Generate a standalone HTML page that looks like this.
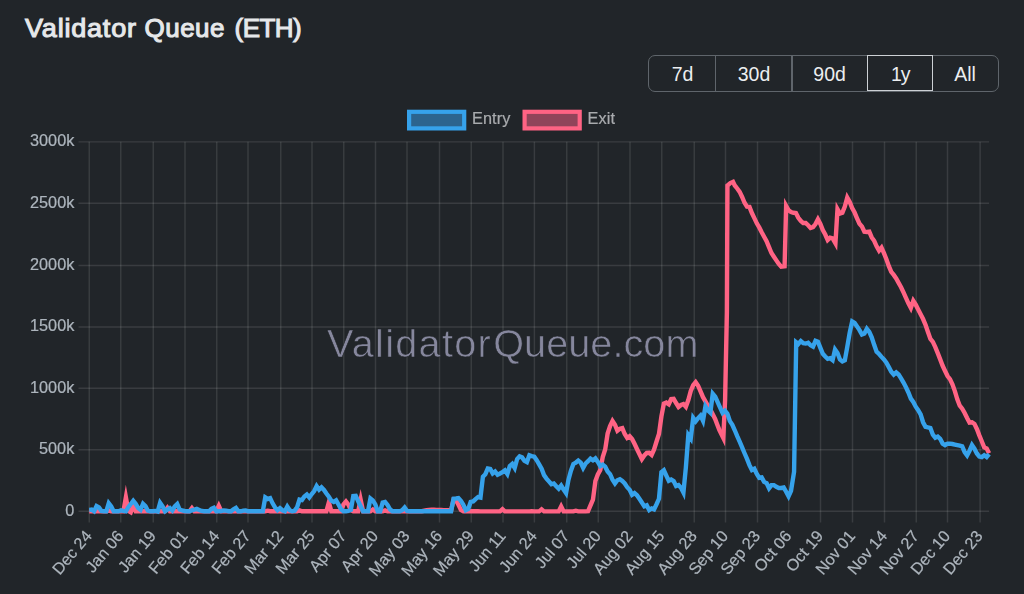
<!DOCTYPE html>
<html><head><meta charset="utf-8"><title>Validator Queue (ETH)</title>
<style>
html,body{margin:0;padding:0;background:#212529;}
body{width:1024px;height:594px;position:relative;overflow:hidden;font-family:"Liberation Sans",sans-serif;}
svg text{font-family:"Liberation Sans",sans-serif;}
h1{position:absolute;left:0;top:12.2px;margin:0;font-size:26px;line-height:32px;font-weight:normal;-webkit-text-stroke:1.05px #e6e8ea;color:#e6e8ea;white-space:nowrap;}
h1 span{position:absolute;top:0;transform-origin:0 0;}
.bg{position:absolute;left:648px;top:54.6px;width:351px;height:37.6px;box-sizing:border-box;border:1.4px solid #5f656b;border-radius:7px;}
.bg span{position:absolute;top:-1.2px;height:37.6px;line-height:41.2px;text-align:center;color:#eceef0;font-size:19.5px;box-sizing:border-box;}
.bg i{position:absolute;top:0;width:1.4px;height:35px;background:#5f656b;}
.bg .act{border:1.3px solid #cdd1d5;top:-0.2px;height:35.8px;line-height:36.8px;letter-spacing:-1.2px;}
</style></head><body>
<h1><span style="left:25.2px;letter-spacing:0.75px;transform:scaleX(1.04)">Validator</span><span style="left:144.6px;letter-spacing:0.45px">Queue</span><span style="left:234.6px;letter-spacing:-0.55px">(ETH)</span></h1>
<div class="bg">
<span style="left:0;width:67px">7d</span><i style="left:65.8px"></i>
<span style="left:67px;width:76px">30d</span><i style="left:142.3px"></i>
<span style="left:142.6px;width:76px">90d</span>
<span class="act" style="left:218.2px;width:66px">1y</span>
<span style="left:283px;width:66px">All</span>
</div>
<svg width="1024" height="594" viewBox="0 0 1024 594" style="position:absolute;left:0;top:0;will-change:transform;">
<path d="M78.50 511.30H989.10M78.50 449.75H989.10M78.50 388.15H989.10M78.50 326.95H989.10M78.50 265.40H989.10M78.50 203.20H989.10M78.50 141.85H989.10" stroke="rgba(255,255,255,0.108)" stroke-width="1.45" fill="none"/>
<path d="M89.25 141.70V522.50M120.75 141.70V522.50M153.25 141.70V522.50M185.00 141.70V522.50M216.75 141.70V522.50M248.00 141.70V522.50M280.75 141.70V522.50M312.00 141.70V522.50M343.75 141.70V522.50M375.50 141.70V522.50M407.00 141.70V522.50M439.50 141.70V522.50M471.25 141.70V522.50M503.00 141.70V522.50M534.40 141.70V522.50M566.75 141.70V522.50M598.25 141.70V522.50M630.00 141.70V522.50M661.75 141.70V522.50M694.25 141.70V522.50M725.50 141.70V522.50M757.50 141.70V522.50M788.75 141.70V522.50M820.50 141.70V522.50M852.50 141.70V522.50M884.50 141.70V522.50M916.25 141.70V522.50M947.50 141.70V522.50M980.10 141.70V522.50" stroke="rgba(255,255,255,0.108)" stroke-width="1.45" fill="none"/>
<g font-size="39.6" fill="#86879d" stroke="#212529" stroke-width="0.6" class="wm"><text x="327.0" y="356.5" letter-spacing="1.3">Validator</text><text x="493.2" y="356.5" letter-spacing="0.08">Queue.com</text></g>
<clipPath id="c"><rect x="87.8" y="140.2" width="903.3000000000001" height="377.6"/></clipPath>
<g clip-path="url(#c)" fill="none" stroke-width="4.4" stroke-linejoin="miter" stroke-miterlimit="10">
<polyline points="89.20,511.25 91.65,511.25 94.09,511.25 96.54,511.25 98.98,511.25 101.43,511.25 103.87,511.25 106.32,511.25 108.76,510.43 111.21,511.25 113.65,511.25 116.10,511.25 118.54,511.25 120.99,511.25 123.44,511.30 125.88,497.38 128.33,510.84 130.77,512.33 133.22,505.37 135.66,511.25 138.11,511.25 140.55,511.25 143.00,511.25 145.44,511.25 147.89,511.25 150.33,511.25 152.78,511.25 155.23,511.25 157.67,511.25 160.12,511.25 162.56,511.25 165.01,511.25 167.45,507.80 169.90,511.25 172.34,511.25 174.79,511.25 177.23,511.00 179.68,511.25 182.12,511.25 184.57,511.25 187.02,511.25 189.46,511.25 191.91,508.04 194.35,511.25 196.80,511.25 199.24,511.25 201.69,511.25 204.13,511.25 206.58,511.25 209.02,511.25 211.47,511.25 213.91,511.25 216.36,511.25 218.81,505.89 221.25,511.25 223.70,511.25 226.14,511.25 228.59,511.25 231.03,511.25 233.48,511.25 235.92,511.25 238.37,511.25 240.81,511.25 243.26,511.25 245.70,511.25 248.15,511.25 250.60,511.25 253.04,511.25 255.49,511.25 257.93,511.25 260.38,511.25 262.82,511.25 265.27,511.25 267.71,510.70 270.16,511.25 272.60,511.25 275.05,511.25 277.49,511.25 279.94,511.25 282.39,511.25 284.83,511.25 287.28,511.25 289.72,511.25 292.17,511.25 294.61,511.25 297.06,511.25 299.50,510.43 301.95,511.25 304.39,511.25 306.84,511.25 309.28,511.25 311.73,511.25 314.18,511.25 316.62,511.25 319.07,511.25 321.51,511.25 323.96,511.25 326.40,511.25 328.85,502.34 331.29,511.25 333.74,511.25 336.18,511.25 338.63,511.25 341.07,511.25 343.52,504.41 345.96,501.58 348.41,504.69 350.86,510.16 353.30,511.25 355.75,511.25 358.19,511.25 360.64,499.64 363.08,511.25 365.53,511.25 367.97,511.25 370.42,511.25 372.86,509.46 375.31,511.25 377.75,511.25 380.20,511.25 382.65,511.25 385.09,510.43 387.54,511.25 389.98,511.25 392.43,511.25 394.87,511.25 397.32,511.25 399.76,511.25 402.21,511.25 404.65,511.25 407.10,511.25 409.54,511.25 411.99,511.25 414.44,511.25 416.88,511.25 419.33,511.25 421.77,511.25 424.22,510.77 426.66,510.29 429.11,510.02 431.55,509.75 434.00,509.81 436.44,509.88 438.89,509.95 441.33,510.02 443.78,510.11 446.23,510.20 448.67,510.29 451.12,510.29 453.56,499.49 456.01,500.31 458.45,504.69 460.90,509.88 463.34,511.25 465.79,511.25 468.23,511.25 470.68,511.25 473.12,511.25 475.57,511.25 478.02,511.31 480.46,511.37 482.91,511.37 485.35,511.37 487.80,511.37 490.24,511.37 492.69,511.37 495.13,511.37 497.58,511.37 500.02,511.37 502.47,509.23 504.91,511.37 507.36,511.37 509.81,511.37 512.25,511.37 514.70,511.37 517.14,511.37 519.59,511.37 522.03,511.37 524.48,511.37 526.92,511.37 529.37,511.37 531.81,511.25 534.26,511.37 536.70,511.37 539.15,511.37 541.60,509.40 544.04,511.37 546.49,511.37 548.93,511.37 551.38,511.37 553.82,511.37 556.27,511.37 558.71,511.37 561.16,506.46 563.60,511.37 566.05,511.37 568.49,511.37 570.94,511.37 573.39,511.37 575.83,510.68 578.28,511.37 580.72,511.37 583.17,511.37 585.61,511.37 588.06,511.23 590.50,505.35 592.95,499.75 595.39,481.02 597.84,474.45 600.28,470.00 602.73,457.00 605.18,449.50 607.62,433.57 610.07,426.05 612.51,420.95 614.96,424.69 617.40,430.72 619.85,428.79 622.29,428.11 624.74,433.98 627.18,437.92 629.63,436.15 632.07,439.04 634.52,443.83 636.97,449.02 639.41,454.08 641.86,459.06 644.30,455.50 646.75,453.00 649.19,452.85 651.64,454.98 654.08,449.50 656.53,441.50 658.97,434.00 661.42,416.40 663.86,403.50 666.31,402.57 668.76,404.23 671.20,399.00 673.65,398.80 676.09,403.00 678.54,406.94 680.98,405.00 683.43,404.01 685.87,406.72 688.32,400.00 690.76,391.00 693.21,385.04 695.65,382.12 698.10,385.72 700.55,391.46 702.99,397.21 705.44,401.45 707.88,405.55 710.33,409.65 712.77,414.30 715.22,419.22 717.31,424.69 719.41,430.16 721.45,434.26 723.30,437.95 725.10,400.00 726.90,312.00 727.44,185.59 730.29,183.12 733.04,181.87 734.78,185.45 737.23,188.46 739.67,191.88 742.12,196.93 744.56,202.81 747.01,206.64 749.45,206.91 751.90,213.07 754.34,218.12 756.79,223.32 759.23,227.42 761.68,232.21 764.12,236.72 766.57,241.09 769.02,247.09 771.46,252.97 773.91,256.66 776.35,260.35 778.80,263.91 781.24,266.64 784.59,266.23 786.13,205.94 788.58,210.33 791.02,212.11 793.47,212.79 795.91,213.07 798.36,217.85 800.81,220.86 803.25,223.05 805.70,223.06 808.14,225.23 810.59,227.91 813.03,227.15 815.48,224.00 817.92,219.25 820.37,224.00 822.81,230.16 825.26,234.53 827.70,240.08 830.15,237.77 832.60,238.36 835.44,243.34 837.49,209.18 839.93,213.52 842.38,212.66 844.82,206.64 847.27,197.59 849.71,201.88 852.16,208.03 854.60,212.54 857.05,218.28 859.49,223.75 861.94,226.48 864.39,231.68 866.83,231.95 869.28,231.68 871.72,237.42 874.17,240.84 876.61,246.31 879.06,250.65 881.50,247.70 883.95,253.14 886.39,259.30 888.84,266.13 891.28,271.88 893.73,274.88 896.18,278.44 898.62,282.81 901.07,287.19 903.51,292.38 905.96,297.85 908.40,303.32 910.85,308.01 913.29,300.84 915.74,304.69 918.18,309.47 920.63,314.26 923.07,319.04 925.52,324.79 927.97,332.03 930.41,338.87 932.86,341.88 935.30,347.07 937.75,353.09 940.19,359.38 942.64,365.80 945.08,371.00 947.53,376.05 949.97,379.06 952.42,384.26 954.86,391.09 957.31,399.30 959.76,405.72 962.20,408.73 964.65,412.97 967.09,418.03 969.54,422.54 971.98,422.27 974.43,423.91 976.87,428.96 979.32,435.39 981.76,441.27 984.21,447.42 986.65,448.52 989.10,453.16" stroke="#ff6384"/>
<polyline points="89.20,509.86 91.65,509.59 94.09,511.23 96.54,506.09 98.98,507.42 101.43,510.96 103.87,511.30 106.32,511.30 108.76,503.22 111.21,506.33 113.65,511.30 116.10,511.23 118.54,511.30 120.99,510.27 123.44,510.96 125.88,511.30 128.33,507.15 130.77,504.00 133.22,500.85 135.66,503.87 138.11,507.97 140.55,509.74 143.00,503.78 145.44,506.19 147.89,510.68 150.33,511.30 152.78,511.30 155.23,510.96 157.67,511.59 160.12,502.88 162.56,506.33 165.01,511.30 167.45,509.59 169.90,508.12 172.34,510.47 174.79,506.33 177.23,504.04 179.68,509.59 182.12,510.49 184.57,510.96 187.02,511.30 189.46,511.30 191.91,510.27 194.35,509.59 196.80,508.91 199.24,509.93 201.69,510.96 204.13,511.30 206.58,511.30 209.02,511.30 211.47,508.91 213.91,507.70 216.36,511.30 218.81,511.23 221.25,510.96 223.70,510.41 226.14,510.68 228.59,511.23 231.03,511.30 233.48,509.32 235.92,507.97 238.37,511.30 240.81,511.30 243.26,510.68 245.70,510.41 248.15,511.30 250.60,511.30 253.04,511.30 255.49,511.30 257.93,511.30 260.38,511.30 262.82,511.23 265.27,497.38 267.71,498.95 270.16,498.11 272.60,503.32 275.05,507.42 277.49,510.15 279.94,508.21 282.39,510.27 284.83,511.23 287.28,506.63 289.72,510.27 292.17,511.27 294.61,510.68 297.06,507.42 299.50,499.49 301.95,500.04 304.39,496.48 306.84,494.50 309.28,497.44 311.73,494.02 314.18,491.02 316.62,486.07 319.07,489.67 321.51,487.31 323.96,489.92 326.40,493.48 328.85,496.76 331.29,500.59 333.74,501.95 336.18,500.32 338.63,504.69 341.07,509.32 343.52,511.30 345.96,511.30 348.41,510.96 350.86,509.86 353.30,496.07 355.75,495.83 358.19,501.27 360.64,506.33 363.08,511.30 365.53,511.30 367.97,511.30 370.42,498.53 372.86,500.59 375.31,504.41 377.75,511.30 380.20,511.30 382.65,502.64 385.09,501.98 387.54,504.96 389.98,509.32 392.43,511.30 394.87,511.30 397.32,511.09 399.76,511.30 402.21,510.27 404.65,507.53 407.10,510.96 409.54,511.30 411.99,511.30 414.44,511.30 416.88,511.30 419.33,511.30 421.77,511.30 424.22,511.30 426.66,511.30 429.11,511.30 431.55,511.30 434.00,511.30 436.44,511.30 438.89,511.30 441.33,511.30 443.78,511.30 446.23,511.30 448.67,511.30 451.12,511.30 453.56,498.81 456.01,498.54 458.45,498.16 460.90,500.86 463.34,504.69 465.79,510.15 468.23,508.91 470.68,501.95 473.12,501.41 475.57,499.06 478.02,497.05 480.46,497.53 482.91,476.78 485.35,474.18 487.80,468.49 490.24,468.98 492.69,473.36 495.13,471.52 497.58,474.78 500.02,473.50 502.47,472.13 504.91,470.42 507.36,473.97 509.81,465.98 512.25,463.88 514.70,467.95 517.14,459.00 519.59,456.31 522.03,457.36 524.48,460.78 526.92,462.12 529.37,455.33 531.81,456.13 534.26,456.68 536.70,460.23 539.15,464.34 541.60,468.71 544.04,475.14 546.49,478.55 548.93,481.43 551.38,484.30 553.82,483.48 556.27,486.21 558.71,488.65 561.16,485.53 563.60,489.49 566.05,493.10 568.49,479.65 570.94,470.62 573.39,463.93 575.83,462.56 578.28,460.59 580.72,462.56 583.17,467.93 585.61,463.52 588.06,461.19 590.50,458.60 592.95,460.26 595.39,458.43 597.84,461.88 600.28,466.11 602.73,464.59 605.18,466.66 607.62,471.45 610.07,474.18 612.51,479.65 614.96,483.37 617.40,480.20 619.85,479.16 622.29,481.02 624.74,483.48 627.18,487.17 629.63,489.77 632.07,494.82 634.52,493.10 636.97,495.23 639.41,498.79 641.86,502.48 644.30,506.31 646.75,505.37 649.19,509.98 651.64,508.37 654.08,509.37 656.53,504.26 658.97,498.79 661.42,472.13 663.86,470.16 666.31,475.55 668.76,480.74 671.20,479.46 673.65,481.02 676.09,485.94 678.54,485.12 680.98,487.71 683.43,492.48 685.87,467.34 688.32,435.07 690.76,438.54 693.21,417.85 695.65,421.27 698.10,418.12 700.55,415.55 702.99,420.79 705.44,406.42 707.88,410.33 710.33,412.62 712.77,393.73 715.22,396.66 717.66,402.13 720.11,407.60 722.55,412.89 725.00,410.75 727.44,413.75 729.89,421.09 732.34,424.79 734.78,430.25 737.23,436.13 739.67,441.60 742.12,447.34 744.56,453.22 747.01,458.96 749.45,465.12 751.90,470.07 754.34,468.80 756.79,474.00 759.23,477.79 761.68,477.47 764.12,481.80 766.57,483.16 769.02,488.27 771.46,485.08 773.91,485.09 776.35,486.72 778.80,487.95 781.24,487.95 783.69,487.51 786.13,491.78 788.58,496.37 791.02,490.96 794.07,471.82 796.21,342.23 798.36,343.96 800.81,341.13 803.25,343.22 805.70,343.50 808.14,342.81 810.59,345.27 813.03,346.58 815.48,340.82 817.92,341.72 820.37,347.87 822.81,353.75 825.26,356.48 827.70,358.81 830.15,358.20 832.60,360.13 835.04,349.53 837.49,353.07 839.93,359.49 842.38,361.44 844.82,360.31 847.27,346.91 849.71,332.56 852.16,321.45 854.60,322.99 857.05,326.41 859.49,330.10 861.94,334.55 864.39,333.52 866.83,328.80 869.28,331.88 871.72,337.34 874.17,344.86 876.61,351.70 879.06,354.02 881.50,356.89 883.95,359.49 886.39,362.64 888.84,367.15 891.28,371.80 893.73,374.57 896.18,372.40 898.62,374.53 901.07,378.36 903.51,382.60 905.96,387.27 908.40,392.46 910.85,398.61 913.29,402.03 915.74,406.68 918.18,410.10 920.63,414.34 923.07,422.27 925.52,426.78 927.97,427.46 930.41,428.01 932.86,434.71 935.30,437.74 937.75,436.62 940.19,438.81 942.64,443.59 945.08,445.13 947.53,443.71 949.97,443.59 952.42,444.00 954.86,444.55 957.31,445.10 959.76,445.64 962.20,446.33 964.65,452.07 967.09,455.42 969.54,450.70 971.98,445.02 974.43,448.65 976.87,453.44 979.32,456.58 981.76,457.19 984.21,455.24 986.65,457.02 989.10,454.12" stroke="#36a2eb"/>
</g>
<g font-size="16.25" fill="#adb5bd" stroke="#adb5bd" stroke-width="0.22" text-anchor="end">
<text x="74.3" y="515.80">0</text>
<text x="74.3" y="454.25">500k</text>
<text x="74.3" y="392.65">1000k</text>
<text x="74.3" y="331.45">1500k</text>
<text x="74.3" y="269.90">2000k</text>
<text x="74.3" y="207.70">2500k</text>
<text x="74.3" y="146.35">3000k</text>
</g>
<g font-size="16.25" fill="#adb5bd" stroke="#adb5bd" stroke-width="0.22" text-anchor="end">
<text transform="translate(92.75 536.30) rotate(-50)">Dec 24</text>
<text transform="translate(124.25 536.30) rotate(-50)">Jan 06</text>
<text transform="translate(156.75 536.30) rotate(-50)">Jan 19</text>
<text transform="translate(188.50 536.30) rotate(-50)">Feb 01</text>
<text transform="translate(220.25 536.30) rotate(-50)">Feb 14</text>
<text transform="translate(251.50 536.30) rotate(-50)">Feb 27</text>
<text transform="translate(284.25 536.30) rotate(-50)">Mar 12</text>
<text transform="translate(315.50 536.30) rotate(-50)">Mar 25</text>
<text transform="translate(347.25 536.30) rotate(-50)">Apr 07</text>
<text transform="translate(379.00 536.30) rotate(-50)">Apr 20</text>
<text transform="translate(410.50 536.30) rotate(-50)">May 03</text>
<text transform="translate(443.00 536.30) rotate(-50)">May 16</text>
<text transform="translate(474.75 536.30) rotate(-50)">May 29</text>
<text transform="translate(506.50 536.30) rotate(-50)">Jun 11</text>
<text transform="translate(537.90 536.30) rotate(-50)">Jun 24</text>
<text transform="translate(570.25 536.30) rotate(-50)">Jul 07</text>
<text transform="translate(601.75 536.30) rotate(-50)">Jul 20</text>
<text transform="translate(633.50 536.30) rotate(-50)">Aug 02</text>
<text transform="translate(665.25 536.30) rotate(-50)">Aug 15</text>
<text transform="translate(697.75 536.30) rotate(-50)">Aug 28</text>
<text transform="translate(729.00 536.30) rotate(-50)">Sep 10</text>
<text transform="translate(761.00 536.30) rotate(-50)">Sep 23</text>
<text transform="translate(792.25 536.30) rotate(-50)">Oct 06</text>
<text transform="translate(824.00 536.30) rotate(-50)">Oct 19</text>
<text transform="translate(856.00 536.30) rotate(-50)">Nov 01</text>
<text transform="translate(888.00 536.30) rotate(-50)">Nov 14</text>
<text transform="translate(919.75 536.30) rotate(-50)">Nov 27</text>
<text transform="translate(951.00 536.30) rotate(-50)">Dec 10</text>
<text transform="translate(983.60 536.30) rotate(-50)">Dec 23</text>
</g>
<rect x="409.1" y="111.8" width="55.1" height="16.6" fill="#2c648e" stroke="#36a2eb" stroke-width="4.2"/>
<rect x="524.6" y="111.8" width="55.1" height="16.6" fill="#91445a" stroke="#ff6384" stroke-width="4.2"/>
<g font-size="16.25" fill="#a9abae" stroke="#a9abae" stroke-width="0.22" letter-spacing="0.12"><text x="472.0" y="124.3">Entry</text><text x="587.6" y="124.3">Exit</text></g>
</svg>
</body></html>
